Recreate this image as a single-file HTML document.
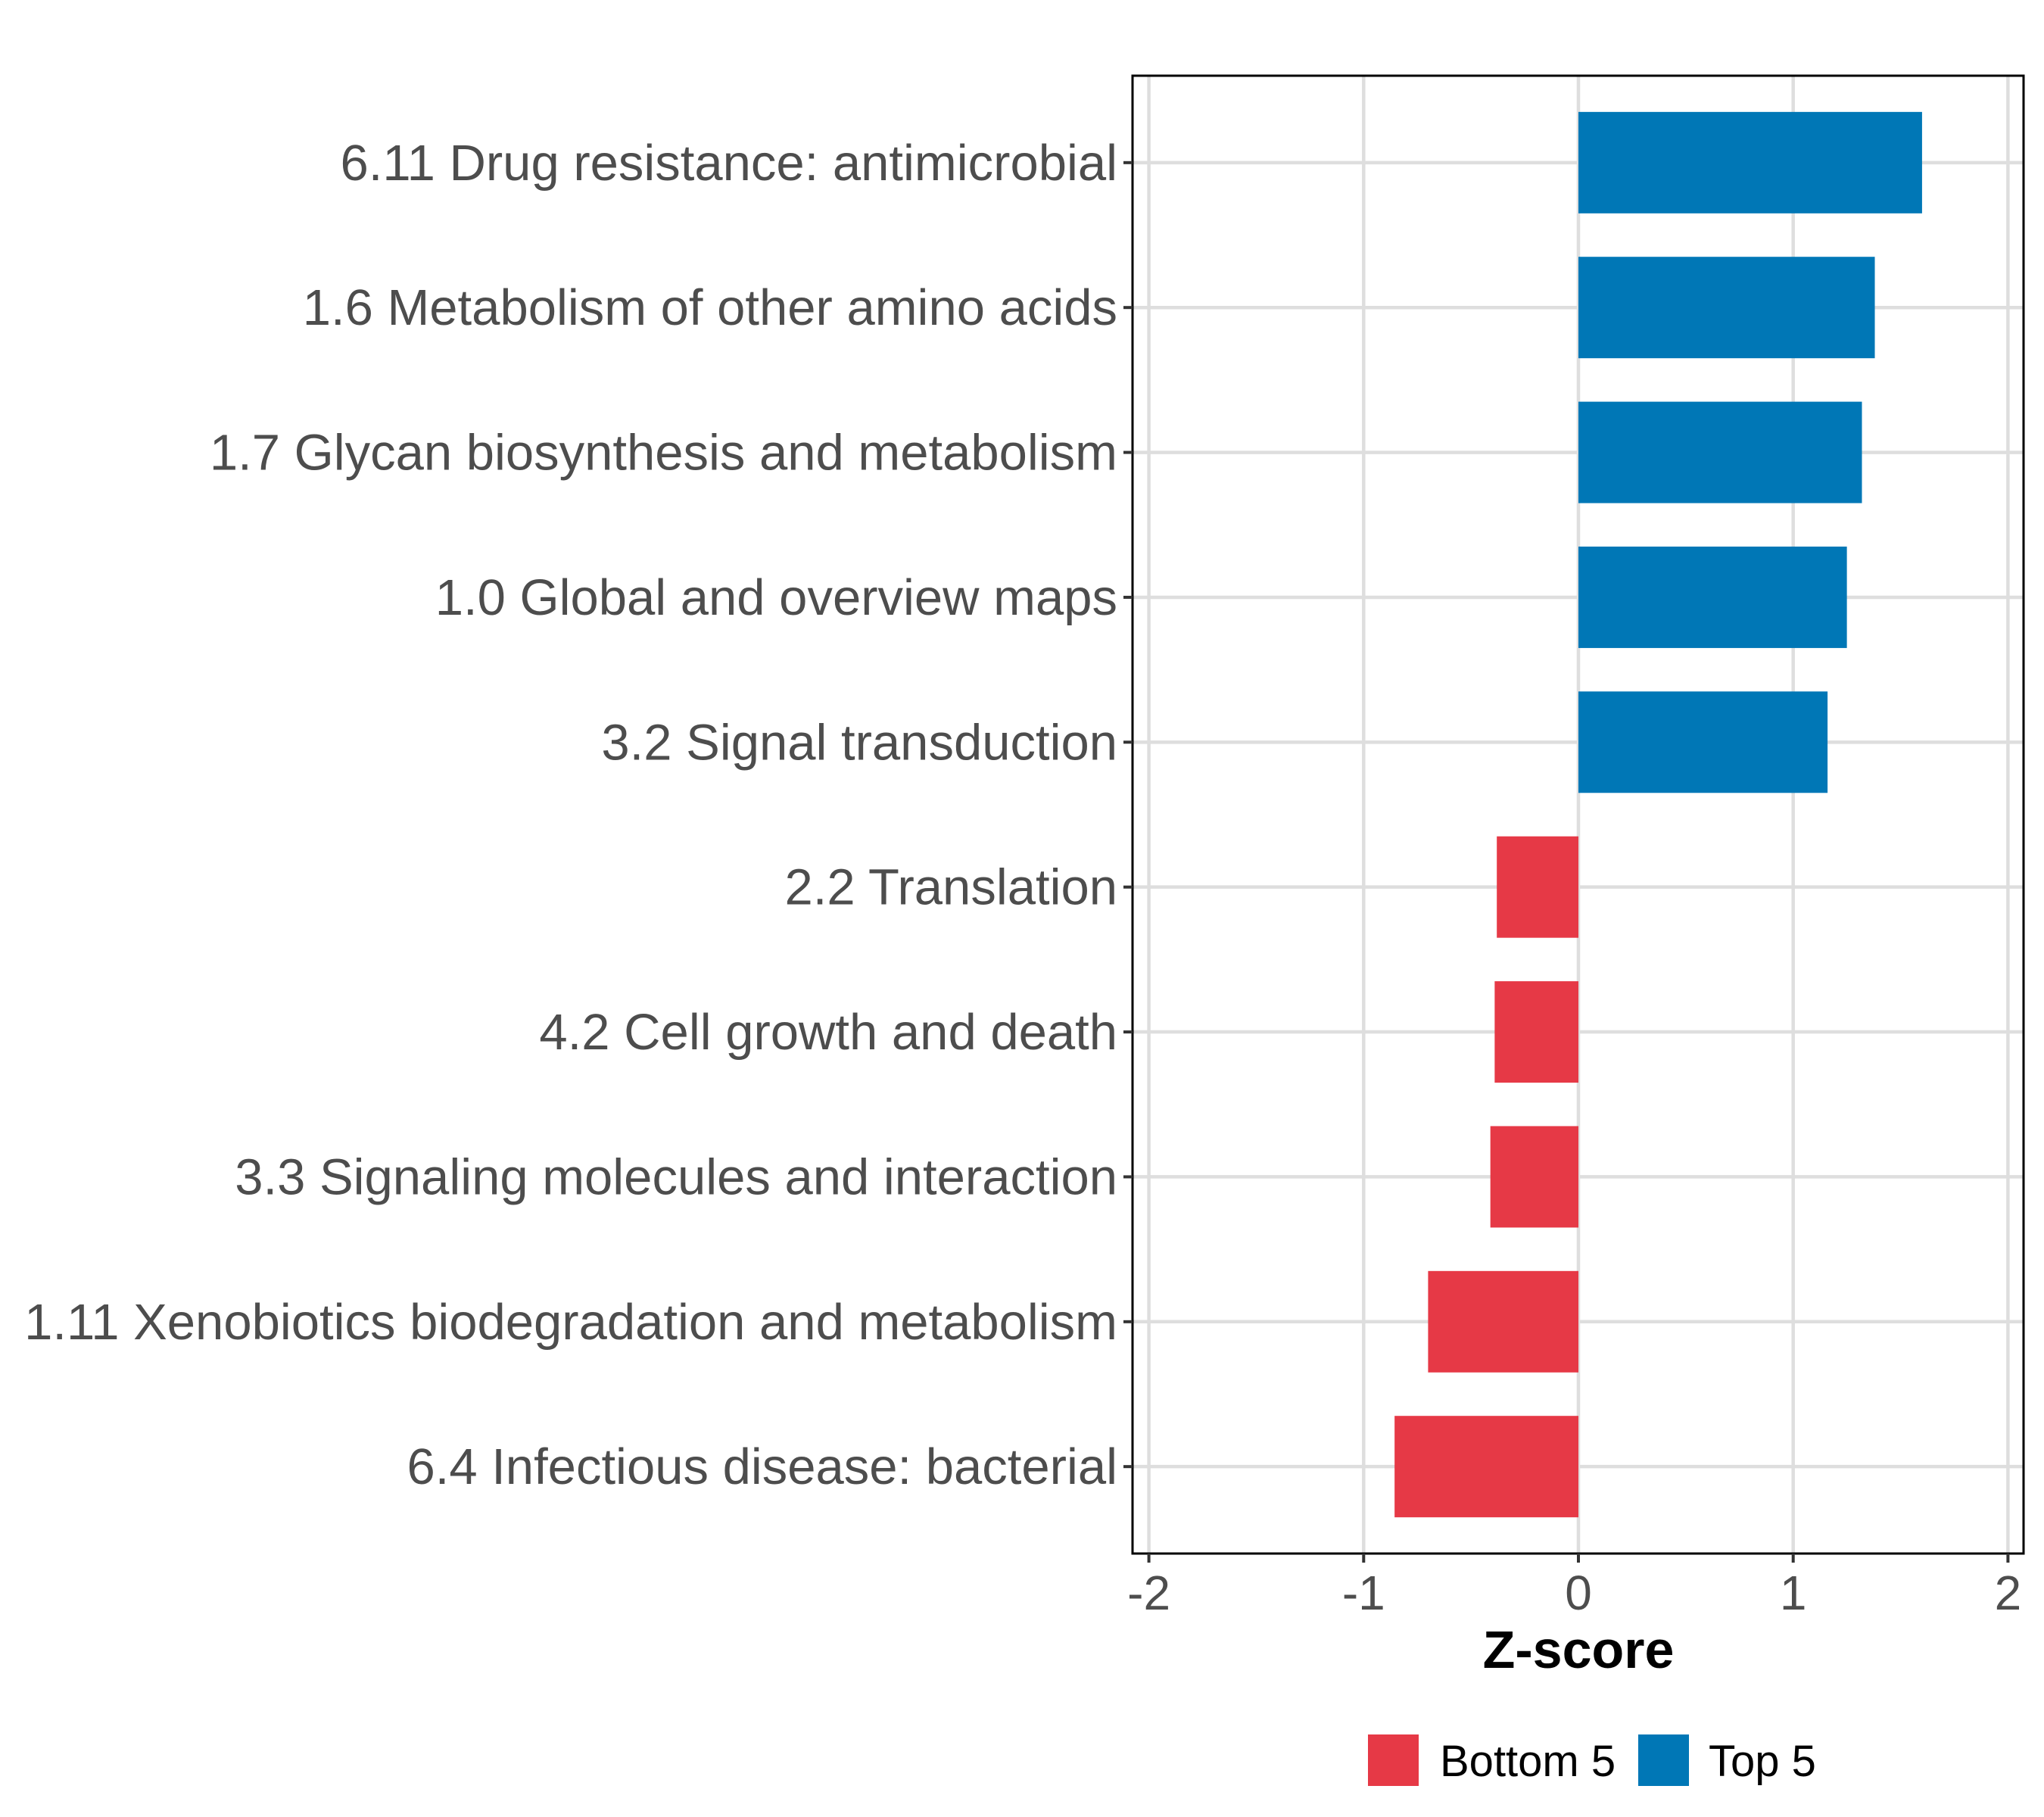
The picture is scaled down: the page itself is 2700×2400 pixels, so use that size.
<!DOCTYPE html>
<html><head><meta charset="utf-8"><style>html,body{margin:0;padding:0;background:#fff}svg{display:block}</style></head>
<body>
<svg id="chart" width="2700" height="2400" viewBox="0 0 2700 2400" xmlns="http://www.w3.org/2000/svg" font-family="Liberation Sans, Arial, sans-serif"></svg>
<script>
const categories = ["6.11 Drug resistance: antimicrobial","1.6 Metabolism of other amino acids","1.7 Glycan biosynthesis and metabolism","1.0 Global and overview maps","3.2 Signal transduction","2.2 Translation","4.2 Cell growth and death","3.3 Signaling molecules and interaction","1.11 Xenobiotics biodegradation and metabolism","6.4 Infectious disease: bacterial"];
const zscores = [1.60, 1.38, 1.32, 1.25, 1.16, -0.38, -0.39, -0.41, -0.70, -0.856];
const groups = ["Top 5","Top 5","Top 5","Top 5","Top 5","Bottom 5","Bottom 5","Bottom 5","Bottom 5","Bottom 5"];
const xTicks = [-2,-1,0,1,2];
const xTickLabels = ["-2","-1","0","1","2"];
const legendLabels = ["Bottom 5","Top 5"];

const NS="http://www.w3.org/2000/svg";
const svg=document.getElementById('chart');
const P={l:1496,r:2673,t:100,b:2052};
const colors={"Top 5":"#0077b6","Bottom 5":"#e63946"};
function xs(v){return 2085+v*283.7;}
const step=(P.b-P.t)/(categories.length+0.2);
function ys(i){return P.t+step*(0.6+i);}
function mk(tag,attrs,parent){const e=document.createElementNS(NS,tag);for(const k in attrs)e.setAttribute(k,attrs[k]);(parent||svg).appendChild(e);return e;}

const grid=mk('g',{});


xTicks.forEach(t=>{mk('line',{x1:xs(t),x2:xs(t),y1:P.t,y2:P.b,stroke:'#dedede','stroke-width':4.5},grid);});
categories.forEach((c,i)=>{mk('line',{x1:P.l,x2:P.r,y1:ys(i),y2:ys(i),stroke:'#dedede','stroke-width':4.5},grid);});

const bars=mk('g',{});


zscores.forEach((v,i)=>{
  const h=step*0.7;
  const x=Math.min(xs(0),xs(v)), w=Math.abs(xs(v)-xs(0));
  const r=mk('rect',{x:x,y:ys(i)-h/2,width:w,height:h,fill:colors[groups[i]]},bars);
  
  
});

const frame=mk('rect',{x:P.l,y:P.t,width:P.r-P.l,height:P.b-P.t,fill:'none',stroke:'#000','stroke-width':3});



const yax=mk('g',{});


categories.forEach((c,i)=>{
  mk('line',{x1:P.l-12,x2:P.l,y1:ys(i),y2:ys(i),stroke:'#333','stroke-width':4},yax);
  const t=mk('text',{x:P.l-20,y:ys(i)+23,'text-anchor':'end','font-size':67,fill:'#4d4d4d'},yax);
  t.textContent=c;
  
  
});

const xax=mk('g',{});


xTicks.forEach((v,i)=>{
  mk('line',{x1:xs(v),x2:xs(v),y1:P.b,y2:P.b+12,stroke:'#333','stroke-width':4},xax);
  const t=mk('text',{x:xs(v),y:2126,'text-anchor':'middle','font-size':64,fill:'#4d4d4d'},xax);
  t.textContent=xTickLabels[i];
  
  
});
const xt=mk('text',{x:xs(0),y:2203,'text-anchor':'middle','font-size':70,'font-weight':'bold',fill:'#000'});
xt.textContent='Z-score';



const leg=mk('g',{});


const lx=[1807,2164], tx=[1902,2257];
legendLabels.forEach((l,i)=>{
  const k=mk('rect',{x:lx[i],y:2291,width:67,height:68,fill:colors[l]},leg);
  
  
  const t=mk('text',{x:tx[i],y:2346,'font-size':58,fill:'#000'},leg);
  t.textContent=l;
  
  
});
</script>
</body></html>
